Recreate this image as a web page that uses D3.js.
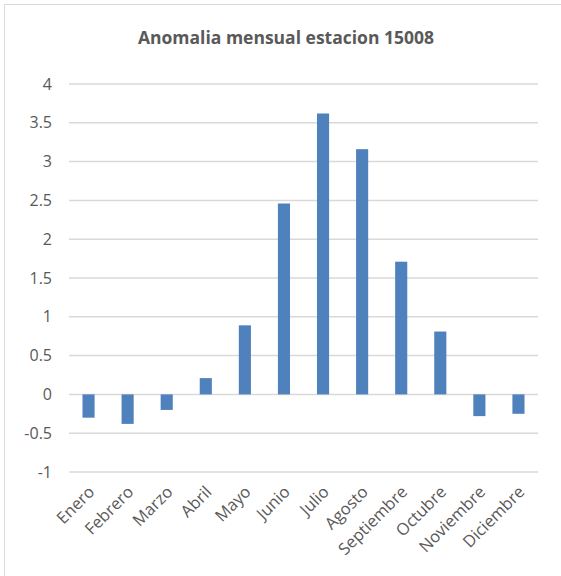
<!DOCTYPE html>
<html>
<head>
<meta charset="utf-8">
<script src="https://cdn.jsdelivr.net/npm/d3@7"></script>
<style>
  html, body { margin: 0; padding: 0; background: #fff; }
  svg { display: block; }
</style>
</head>
<body>
<svg id="chart" width="561" height="576"></svg>
<script>
// Monthly anomaly values for station 15008
const months = ["Enero", "Febrero", "Marzo", "Abril", "Mayo", "Junio",
                "Julio", "Agosto", "Septiembre", "Octubre", "Noviembre", "Diciembre"];
const anomalies = [-0.30, -0.38, -0.20, 0.21, 0.89, 2.46, 3.62, 3.16, 1.71, 0.81, -0.28, -0.25];
const yTicks = [-1, -0.5, 0, 0.5, 1, 1.5, 2, 2.5, 3, 3.5, 4];
const title = "Anomalia mensual estacion 15008";

const svg = d3.select("#chart");
const W = 561, H = 576;
const plot = { left: 69, right: 538, top: 84, bottom: 472 };
const textColor = "#595959";
const font = "'Open Sans', 'Noto Sans', sans-serif";

// outer frame (top and left edges)
svg.append("path")
  .attr("d", `M4.5,${H} V4.5 H${W}`)
  .attr("fill", "none")
  .attr("stroke", "#d9d9d9")
  .attr("stroke-width", 1);

const x = d3.scaleBand().domain(months).range([plot.left, plot.right]).paddingInner(0.69).paddingOuter(0.345);
const y = d3.scaleLinear().domain([-1, 4]).range([plot.bottom, plot.top]);

// horizontal gridlines
svg.append("g")
  .selectAll("line")
  .data(yTicks)
  .join("line")
  .attr("x1", plot.left).attr("x2", plot.right)
  .attr("y1", d => y(d)).attr("y2", d => y(d))
  .attr("stroke", "#d9d9d9")
  .attr("stroke-width", 1.5);

// y axis labels
const yAxis = d3.axisLeft(y).tickValues(yTicks).tickSize(0).tickPadding(0)
  .tickFormat(d => String(d));
svg.append("g")
  .attr("transform", `translate(${plot.left - 17},0)`)
  .call(yAxis)
  .call(g => g.select(".domain").remove())
  .call(g => g.selectAll("text")
    .attr("fill", textColor)
    .attr("font-family", font)
    .attr("font-size", 16));

// bars
svg.append("g")
  .selectAll("rect")
  .data(anomalies)
  .join("rect")
  .attr("x", (d, i) => x(months[i]))
  .attr("width", x.bandwidth())
  .attr("y", d => y(Math.max(0, d)))
  .attr("height", d => Math.abs(y(d) - y(0)))
  .attr("fill", "#4f81bd");

// x axis labels, rotated
const xAxis = d3.axisBottom(x).tickSize(0).tickPadding(0);
svg.append("g")
  .attr("transform", `translate(0,${plot.bottom})`)
  .call(xAxis)
  .call(g => g.select(".domain").remove())
  .call(g => g.selectAll("text")
    .attr("fill", textColor)
    .attr("font-family", font)
    .attr("font-size", 16.5)
    .attr("text-anchor", "end")
    .attr("dy", 0)
    .attr("transform", "translate(7,21) rotate(-45)"));

// title
svg.append("text")
  .attr("x", 286)
  .attr("y", 44)
  .attr("text-anchor", "middle")
  .attr("fill", textColor)
  .attr("font-family", font)
  .attr("font-weight", "bold")
  .attr("font-size", 17.5)
  .text(title);
</script>
</body>
</html>
